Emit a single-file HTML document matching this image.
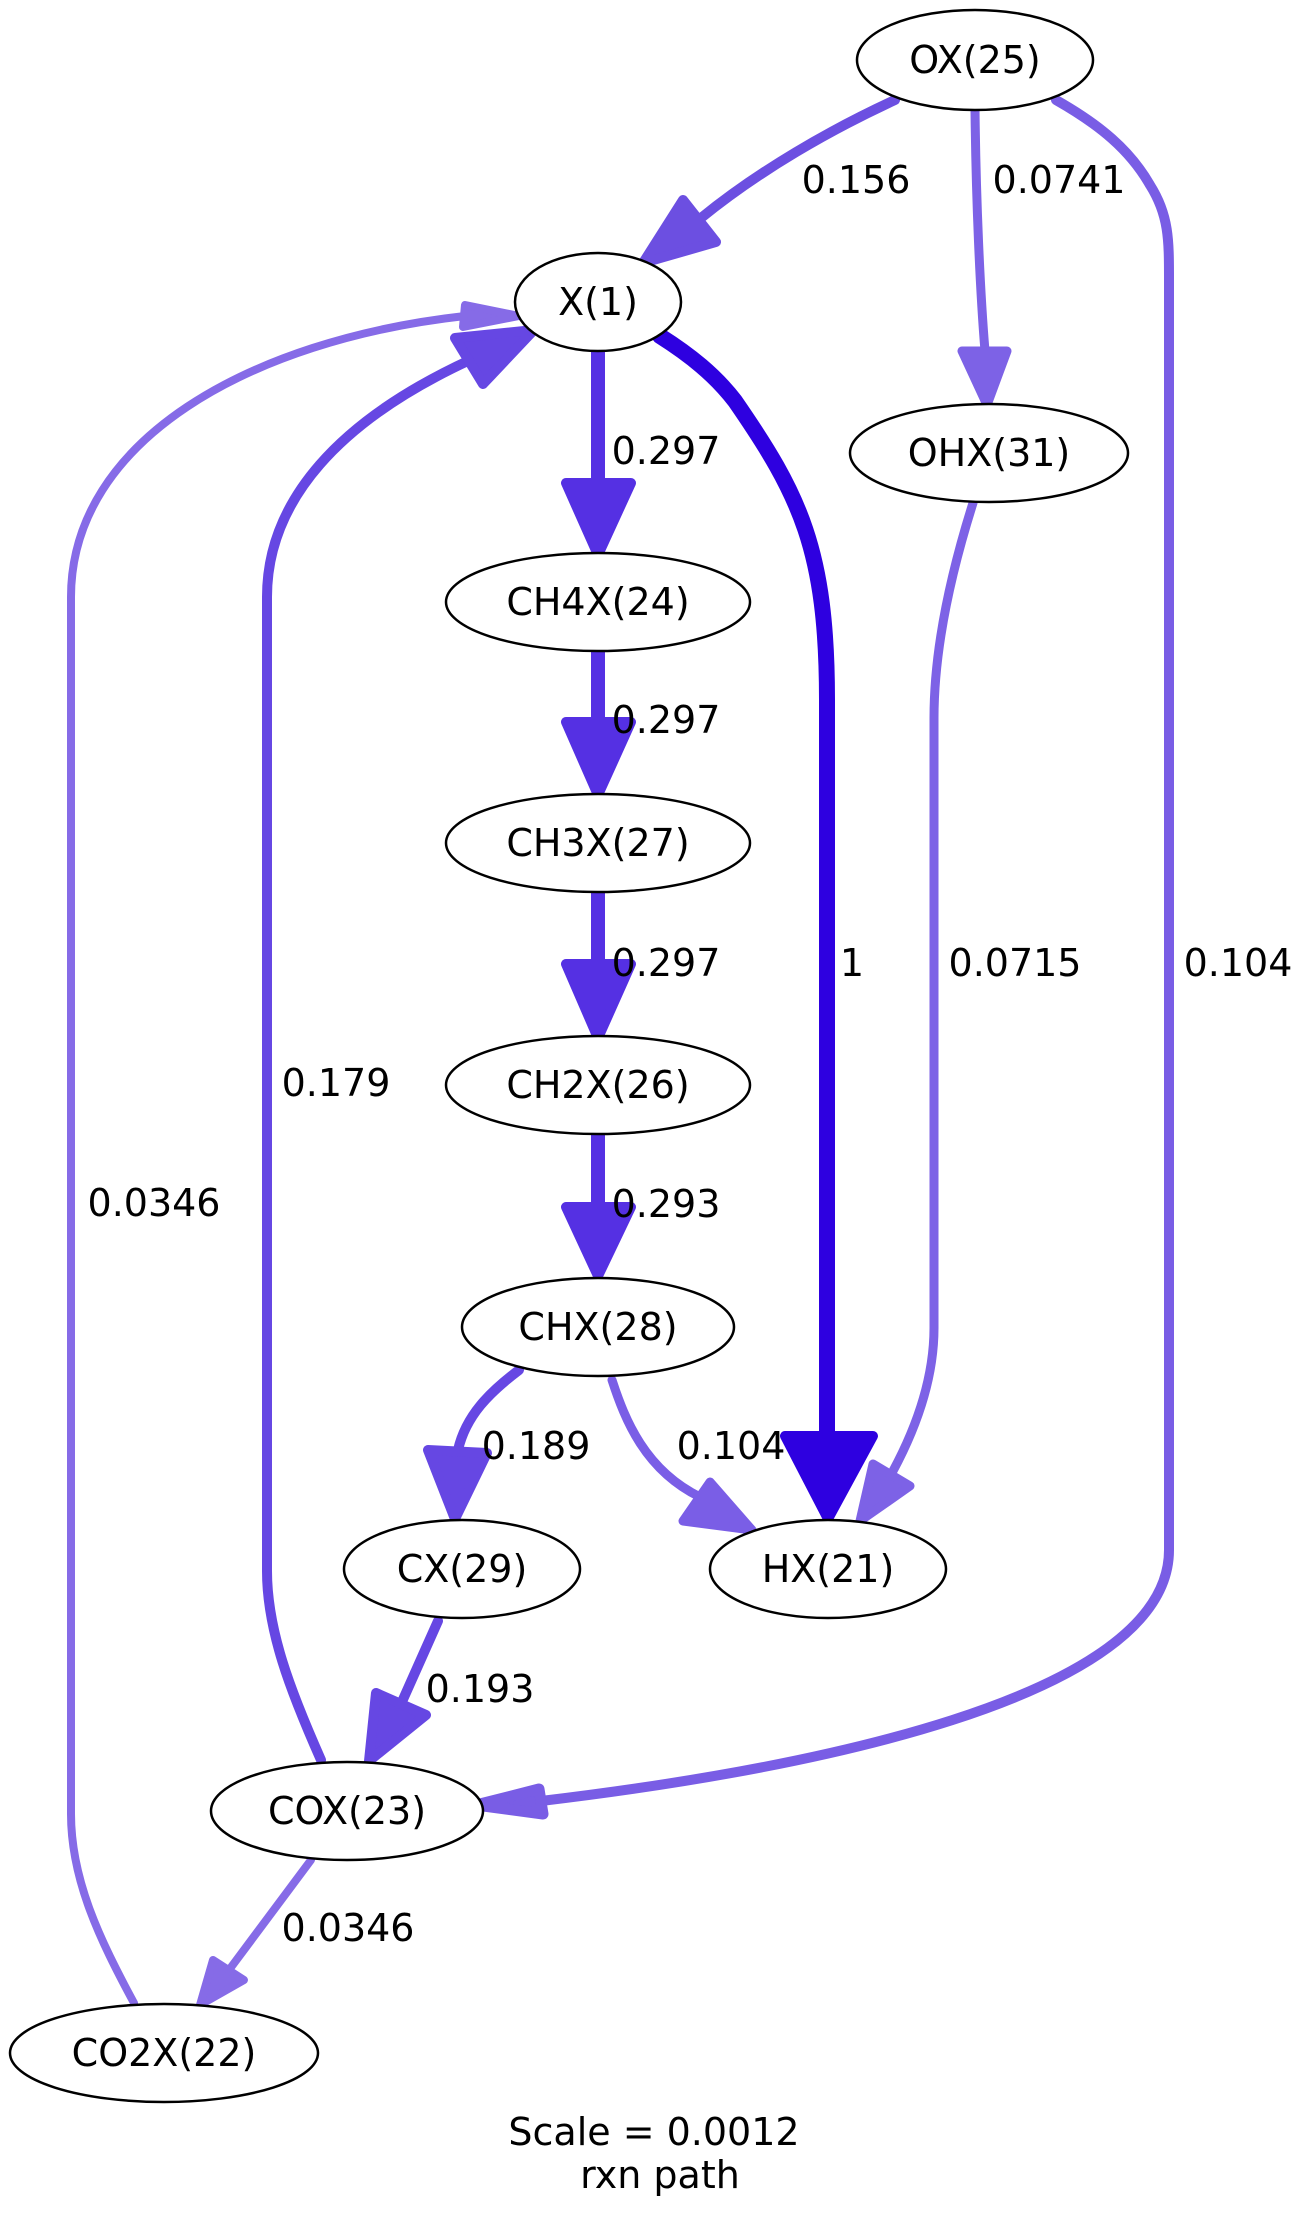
<!DOCTYPE html>
<html><head><meta charset="utf-8"><style>html,body{margin:0;padding:0;background:#fff}svg{display:block}</style></head>
<body>
<svg width="1309" height="2219" viewBox="0 0 1309 2219" xmlns="http://www.w3.org/2000/svg" font-family="DejaVu Sans, Liberation Sans, sans-serif" font-size="38">
<g fill="none" stroke-linecap="round" stroke-linejoin="round">
<path d="M895,100 C830,130 760,170 701,218" stroke="#6c4fe1" stroke-width="10"/>
<polygon points="683,200 716,242 643,263" fill="#6c4fe1" stroke="#6c4fe1" stroke-width="10"/>
<path d="M975,109 C976,200 980,290 985,351" stroke="#7d62e6" stroke-width="9"/>
<polygon points="962,351 1007,351 987,405" fill="#7d62e6" stroke="#7d62e6" stroke-width="9"/>
<path d="M1056,100 C1100,125 1130,150 1150,185 C1169,215 1169,240 1169,280 L1169,1550 C1169,1700 800,1770 541,1801" stroke="#795de5" stroke-width="10"/>
<polygon points="539,1789 543,1814 476,1805" fill="#795de5" stroke="#795de5" stroke-width="11"/>
<path d="M598,352 L598,483" stroke="#5530e3" stroke-width="14"/>
<polygon points="566,483 631,483 598,555" fill="#5530e3" stroke="#5530e3" stroke-width="10"/>
<path d="M598,651 L598,722" stroke="#5530e3" stroke-width="14"/>
<polygon points="566,722 631,722 598,795" fill="#5530e3" stroke="#5530e3" stroke-width="10"/>
<path d="M598,892 L598,964" stroke="#5530e3" stroke-width="14"/>
<polygon points="566,964 631,964 598,1038" fill="#5530e3" stroke="#5530e3" stroke-width="10"/>
<path d="M598,1134 L598,1207" stroke="#5530e3" stroke-width="14"/>
<polygon points="566,1207 631,1207 598,1276" fill="#5530e3" stroke="#5530e3" stroke-width="10"/>
<path d="M660,336 C690,355 715,375 735,401 C800,495 827,550 827,700 L827,1436" stroke="#2e00e0" stroke-width="16"/>
<polygon points="785,1436 873,1436 828,1519" fill="#2e00e0" stroke="#2e00e0" stroke-width="10"/>
<path d="M973,503 C955,560 934,640 934,718 L934,1328 C934,1380 915,1430 893,1471" stroke="#7d62e6" stroke-width="9"/>
<polygon points="873,1464 910,1486 860,1521" fill="#7d62e6" stroke="#7d62e6" stroke-width="9"/>
<path d="M612,1380 C625,1420 645,1470 700,1497" stroke="#7a5ee6" stroke-width="9"/>
<polygon points="683,1521 710,1482 752,1530" fill="#7a5ee6" stroke="#7a5ee6" stroke-width="9"/>
<path d="M519,1370 C490,1392 466,1415 458,1450" stroke="#6647e3" stroke-width="10"/>
<polygon points="428,1450 487,1453 455,1519" fill="#6647e3" stroke="#6647e3" stroke-width="10"/>
<path d="M438,1621 L401,1704" stroke="#6647e3" stroke-width="10"/>
<polygon points="376,1693 426,1715 369,1761" fill="#6647e3" stroke="#6647e3" stroke-width="10"/>
<path d="M321,1760 C290,1690 267,1630 267,1571 L267,597 C267,500 340,420 470,360" stroke="#6647e3" stroke-width="10"/>
<polygon points="455,338 483,384 534,330" fill="#6647e3" stroke="#6647e3" stroke-width="10"/>
<path d="M134,2003 C100,1940 71,1880 71,1814 L71,597 C71,440 250,340 465,316" stroke="#866be7" stroke-width="8"/>
<polygon points="465,305 463,327 519,316" fill="#866be7" stroke="#866be7" stroke-width="8"/>
<path d="M311,1860 L229,1970" stroke="#866be7" stroke-width="8"/>
<polygon points="213,1960 244,1980 200,2005" fill="#866be7" stroke="#866be7" stroke-width="8"/>
</g>
<g fill="#fff" stroke="#000" stroke-width="2.5">
<ellipse cx="975" cy="60" rx="118" ry="50"/>
<ellipse cx="598" cy="302" rx="83" ry="49"/>
<ellipse cx="989" cy="453" rx="139" ry="49"/>
<ellipse cx="598" cy="602" rx="152" ry="49"/>
<ellipse cx="598" cy="843" rx="152" ry="49"/>
<ellipse cx="598" cy="1085" rx="152" ry="49"/>
<ellipse cx="598" cy="1327" rx="136" ry="49"/>
<ellipse cx="462" cy="1569" rx="118" ry="49"/>
<ellipse cx="828" cy="1569" rx="118" ry="49"/>
<ellipse cx="347" cy="1811" rx="136" ry="49"/>
<ellipse cx="164" cy="2053" rx="154" ry="49"/>
</g>
<g fill="#000" text-anchor="middle" dominant-baseline="central">
<text x="975" y="60">OX(25)</text>
<text x="598" y="302">X(1)</text>
<text x="989" y="453">OHX(31)</text>
<text x="598" y="602">CH4X(24)</text>
<text x="598" y="843">CH3X(27)</text>
<text x="598" y="1085">CH2X(26)</text>
<text x="598" y="1327">CHX(28)</text>
<text x="462" y="1569">CX(29)</text>
<text x="828" y="1569">HX(21)</text>
<text x="347" y="1811">COX(23)</text>
<text x="164" y="2053">CO2X(22)</text>
<text x="856" y="180">0.156</text>
<text x="1059" y="180">0.0741</text>
<text x="666" y="451">0.297</text>
<text x="666" y="720">0.297</text>
<text x="666" y="963">0.297</text>
<text x="666" y="1204">0.293</text>
<text x="852" y="963">1</text>
<text x="1015" y="963">0.0715</text>
<text x="1238" y="963">0.104</text>
<text x="336" y="1083">0.179</text>
<text x="154" y="1203">0.0346</text>
<text x="536" y="1446">0.189</text>
<text x="731" y="1446">0.104</text>
<text x="480" y="1689">0.193</text>
<text x="348" y="1928">0.0346</text>
<text x="654" y="2132">Scale = 0.0012</text>
<text x="660" y="2175">rxn path</text>
</g>
</svg>
</body></html>
